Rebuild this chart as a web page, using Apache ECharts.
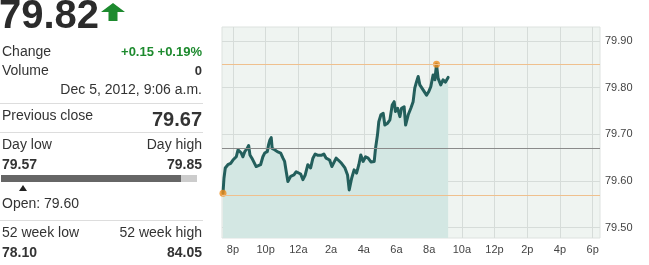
<!DOCTYPE html>
<html><head><meta charset="utf-8">
<script src="https://cdn.jsdelivr.net/npm/echarts@6/dist/echarts.min.js"></script>
<style>html,body{margin:0;padding:0;background:#fff}#c{width:649px;height:265px}</style>
</head><body><div id="c"></div>
<script>
// Intraday times (hours since midnight Dec 4; 24 = 12a Dec 5)
const times = [19.39,19.45,19.53,19.69,19.86,20.00,20.10,20.20,20.31,20.41,20.51,20.61,20.72,20.87,20.96,21.04,21.16,21.28,21.42,21.53,21.69,21.83,21.94,22.10,22.18,22.26,22.34,22.40,22.55,22.71,22.92,23.06,23.16,23.26,23.36,23.53,23.73,23.87,23.97,24.14,24.28,24.42,24.58,24.75,24.89,25.03,25.20,25.40,25.56,25.70,25.91,26.05,26.17,26.31,26.44,26.64,26.85,27.01,27.11,27.26,27.41,27.56,27.70,27.82,27.96,28.11,28.27,28.44,28.64,28.72,28.84,28.92,29.05,29.19,29.29,29.46,29.60,29.74,29.86,29.94,30.07,30.21,30.31,30.47,30.56,30.72,30.88,31.02,31.12,31.23,31.33,31.43,31.53,31.69,31.84,31.98,32.10,32.24,32.35,32.45,32.55,32.71,32.85,33.00,33.16];
const prices = [79.574,79.606,79.628,79.635,79.638,79.645,79.649,79.652,79.667,79.670,79.660,79.652,79.663,79.670,79.676,79.656,79.649,79.645,79.631,79.628,79.635,79.652,79.660,79.663,79.678,79.688,79.693,79.670,79.667,79.663,79.660,79.649,79.642,79.620,79.599,79.610,79.613,79.620,79.617,79.615,79.603,79.613,79.635,79.628,79.649,79.658,79.655,79.655,79.658,79.649,79.645,79.631,79.628,79.649,79.645,79.638,79.628,79.613,79.581,79.606,79.624,79.617,79.635,79.656,79.642,79.652,79.649,79.641,79.642,79.670,79.699,79.727,79.742,79.745,79.720,79.724,79.731,79.763,79.770,79.749,79.756,79.738,79.756,79.759,79.720,79.742,79.756,79.770,79.799,79.813,79.824,79.806,79.810,79.792,79.784,79.792,79.802,79.827,79.817,79.850,79.820,79.806,79.817,79.812,79.822];
const xTickHours = [20,22,24,26,28,30,32,34,36,38,40,42];
const xTickLabels = ['8p','10p','12a','2a','4a','6a','8a','10a','12p','2p','4p','6p'];
const yTicks = [79.5,79.6,79.7,79.8,79.9];
const previousClose = 79.67;
const dayLow = 79.57;
const dayHigh = 79.85;
const markers = [[19.39,79.574],[32.45,79.85]];

const FONT = '"Liberation Sans", Arial, sans-serif';
const chart = echarts.init(document.getElementById('c'), null, {renderer:'canvas'});

function txt(x,y,s,opt){
  return {type:'text',x:x,y:y,style:Object.assign({text:s,fill:'#333',font:'13px '+FONT,textVerticalAlign:'middle'},opt||{})};
}
const graphics = [
  txt(-1,17,'79.82',{font:'bold 40px '+FONT,fill:'#2b2b2b'}),
  {type:'polygon',shape:{points:[[113,3],[125,12],[117.5,12],[117.5,21],[108.5,21],[108.5,12],[101,12]]},style:{fill:'#1d8a2e'}},
  txt(2,52,'Change',{font:'14px '+FONT}),
  txt(202,52,'+0.15 +0.19%',{font:'bold 13px '+FONT,fill:'#1d8a2e',textAlign:'right'}),
  txt(2,71,'Volume',{font:'14px '+FONT}),
  txt(202,71,'0',{font:'bold 13px '+FONT,textAlign:'right'}),
  txt(202,90,'Dec 5, 2012, 9:06 a.m.',{font:'14px '+FONT,textAlign:'right'}),
  {type:'line',shape:{x1:0,y1:103.5,x2:203,y2:103.5},style:{stroke:'#dddddd',lineWidth:1}},
  txt(2,116,'Previous close',{font:'14px '+FONT}),
  txt(202,120,'79.67',{font:'bold 20px '+FONT,textAlign:'right'}),
  {type:'line',shape:{x1:0,y1:132.5,x2:203,y2:132.5},style:{stroke:'#dddddd',lineWidth:1}},
  txt(2,145,'Day low',{font:'14px '+FONT}),
  txt(202,145,'Day high',{font:'14px '+FONT,textAlign:'right'}),
  txt(2,165,'79.57',{font:'bold 14px '+FONT}),
  txt(202,165,'79.85',{font:'bold 14px '+FONT,textAlign:'right'}),
  {type:'rect',shape:{x:1,y:175,width:196,height:7},style:{fill:'#cccccc'}},
  {type:'rect',shape:{x:1,y:175,width:180,height:7},style:{fill:'#666666'}},
  {type:'polygon',shape:{points:[[23,185],[27,191],[19,191]]},style:{fill:'#222'}},
  txt(2,204,'Open: 79.60',{font:'14px '+FONT}),
  {type:'line',shape:{x1:0,y1:220.5,x2:203,y2:220.5},style:{stroke:'#dddddd',lineWidth:1}},
  txt(2,233,'52 week low',{font:'14px '+FONT}),
  txt(202,233,'52 week high',{font:'14px '+FONT,textAlign:'right'}),
  txt(2,253,'78.10',{font:'bold 14px '+FONT}),
  txt(202,253,'84.05',{font:'bold 14px '+FONT,textAlign:'right'})
];

chart.setOption({
  animation:false,
  graphic:graphics,
  grid:{left:222,right:49,top:27,bottom:27,show:true,backgroundColor:'#eff4f1',borderColor:'#dde2df',borderWidth:1},
  xAxis:{type:'value',min:19.33,max:42.45,
    axisLine:{show:false},
    axisTick:{show:false,customValues:xTickHours},
    splitLine:{show:true,lineStyle:{color:'#d6dcd9',width:1}},
    axisLabel:{customValues:xTickHours,color:'#444',fontSize:11,fontFamily:FONT,margin:6,
      formatter:function(v){const i=xTickHours.indexOf(Math.round(v));return i>=0?xTickLabels[i]:'';}}
  },
  yAxis:{type:'value',position:'right',min:79.478,max:79.93,
    axisLine:{show:false},
    axisTick:{show:false,customValues:yTicks},
    splitLine:{show:true,lineStyle:{color:'#d6dcd9',width:1}},
    axisLabel:{customValues:yTicks,color:'#444',fontSize:11,fontFamily:FONT,margin:5,
      formatter:function(v){return v.toFixed(2);}}
  },
  series:[
    {type:'line',data:times.map((t,i)=>[t,prices[i]]),showSymbol:false,symbol:'none',
      lineStyle:{color:'#235f5c',width:3,join:'round',cap:'round'},
      areaStyle:{color:'#d3e7e3',opacity:1,origin:'start'},
      markLine:{silent:true,symbol:'none',label:{show:false},
        data:[
          {yAxis:dayHigh,lineStyle:{color:'#efc08e',width:1,type:'solid'}},
          {yAxis:dayLow,lineStyle:{color:'#efc08e',width:1,type:'solid'}},
          {yAxis:previousClose,lineStyle:{color:'#8a8a8a',width:1,type:'solid'}}
        ]},
      z:2
    },
    {type:'scatter',data:markers,symbolSize:7,itemStyle:{color:'#ef8f1e'},z:3}
  ]
});
</script></body></html>
